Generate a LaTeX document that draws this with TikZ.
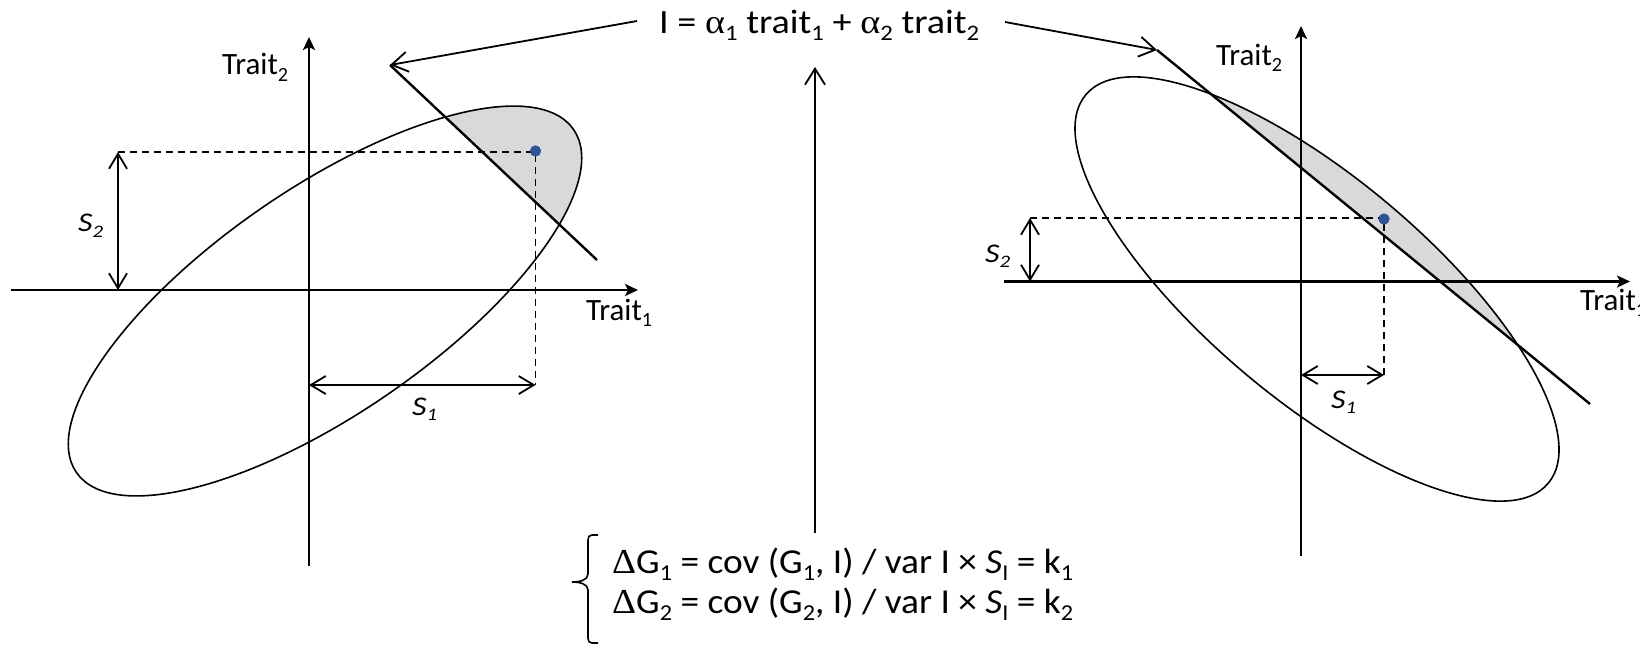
\documentclass[tikz,border=0pt]{standalone}
\usepackage{fontspec}
\usepackage{graphicx}
\setmainfont{Carlito}
\newfontfamily\gk{Liberation Serif}
\usetikzlibrary{arrows.meta}
\definecolor{dotblue}{RGB}{47,85,151}
\definecolor{shadegray}{RGB}{217,217,217}
\newcommand{\lo}[1]{\raisebox{-0.22em}{\scalebox{0.65}{#1}}}
\newcommand{\fitw}[2]{\resizebox{#1pt}{\height}{#2}}
\begin{document}
\begin{tikzpicture}[x=1pt,y=-1pt,
  axis/.style={line width=2.6pt,-{Stealth[length=13pt,width=12pt,inset=3pt]}},
  ell/.style={line width=1.6pt},
  cut/.style={line width=2.4pt},
  dimarrow/.style={line width=1.8pt,{Straight Barb[length=15pt,width=18pt]}-{Straight Barb[length=15pt,width=18pt]}},
  ptr/.style={line width=1.8pt,-{Straight Barb[length=16pt,width=20pt]}},
  guide/.style={line width=1.5pt,dash pattern=on 7pt off 5pt},
  pt/.style={circle,fill=dotblue,inner sep=0pt,minimum size=11pt},
  lab/.style={font=\fontsize{31}{33}\selectfont,inner sep=0pt,anchor=base west},
  slab/.style={font=\fontsize{27}{29}\selectfont\itshape,inner sep=0pt,anchor=base west},
  big/.style={font=\fontsize{34}{36}\selectfont,inner sep=0pt,anchor=base west},
  form/.style={font=\fontsize{35}{37}\selectfont,inner sep=0pt,anchor=base west},
  bracestyle/.style={line width=1.6pt}]
\useasboundingbox (0,0) rectangle (1640,645);

% ---------- left panel ----------
\begin{scope}
  \clip (183,-130) -- (804,455) -- (1194,41) -- (573,-544) -- cycle;
  \fill[shadegray, shift={(325,301)}, rotate=34.6] (0,0) ellipse [x radius=302pt, y radius=112.5pt];
\end{scope}
\draw[ell, shift={(325,301)}, rotate=34.6] (0,0) ellipse [x radius=302pt, y radius=112.5pt];

\coordinate (xa1) at (11,290);
\coordinate (xb1) at (638,290);
\coordinate (ya1) at (309,566);
\coordinate (yb1) at (309,37);
\draw[axis] (xa1) -- (xb1);
\draw[axis] (ya1) -- (yb1);

\coordinate (c1a) at (390,65);
\coordinate (c1b) at (597,260);
\draw[cut] (c1a) -- (c1b);

\coordinate (g1a) at (118,152);
\coordinate (g1b) at (535.5,385);
\coordinate (s1a) at (309,385);
\coordinate (s2b) at (118,290);
\node[pt] (d1) at (535.5,151) {};
\draw[guide] (g1a) -- (535.5,152) -- (g1b);
\node[pt] at (d1) {};
\draw[dimarrow] (g1a) -- (s2b);
\draw[dimarrow] (s1a) -- (g1b);

\node[lab] (t2l) at (222,74.5) {\fitw{66}{Trait\lo{2}}};
\node[lab] (t1l) at (586,320) {\fitw{66}{Trait\lo{1}}};
\node[slab] (s2l) at (78,231.5) {\fitw{25}{S\lo{2}}};
\node[slab] (s1l) at (412,415) {\fitw{25}{S\lo{1}}};

% ---------- right panel ----------
\begin{scope}
  \clip (1157,50) ++(-433,-354) -- ++(1299,1062) -- ++(708,-866) -- ++(-1299,-1062) -- cycle;
  \fill[shadegray, shift={(1317,289)}, rotate=-40.05] (0,0) ellipse [x radius=302pt, y radius=111pt];
\end{scope}
\draw[ell, shift={(1317,289)}, rotate=-40.05] (0,0) ellipse [x radius=302pt, y radius=111pt];

\coordinate (xa2) at (1004,281.5);
\coordinate (xb2) at (1630,281.5);
\coordinate (ya2) at (1301,556);
\coordinate (yb2) at (1301,26);
\draw[axis] (xa2) -- (xb2);
\draw[axis] (ya2) -- (yb2);

\coordinate (c2a) at (1157,50);
\coordinate (c2b) at (1590,404);
\draw[cut] (c2a) -- (c2b);

\coordinate (g2a) at (1030,218);
\coordinate (g2b) at (1384,375);
\coordinate (s1c) at (1301,375);
\coordinate (s2d) at (1030,281.5);
\node[pt] (d2) at (1384,219) {};
\draw[guide] (g2a) -- (1384,218) -- (g2b);
\node[pt] at (d2) {};
\draw[dimarrow] (g2a) -- (s2d);
\draw[dimarrow] (s1c) -- (g2b);

\node[lab] (t2r) at (1216,65) {\fitw{66}{Trait\lo{2}}};
\node[lab] (t1r) at (1580,310) {\fitw{66}{Trait\lo{1}}};
\node[slab] (s2r) at (985,262) {\fitw{25}{S\lo{2}}};
\node[slab] (s1r) at (1331,408) {\fitw{25}{S\lo{1}}};

% ---------- centre ----------
\node[big] (idx) at (659,33.3) {\fitw{320}{I = {\gk α}\lo{1} trait\lo{1} + {\gk α}\lo{2} trait\lo{2}}};
\coordinate (pl) at (637,21);
\coordinate (pr) at (1005,22);
\draw[ptr] (pl) -- (c1a);
\draw[ptr] (pr) -- (c2a);

\node[form] (f1) at (612,573) {\fitw{461}{{\gk Δ}G\lo{1} = cov (G\lo{1}, I) / var I × \textit{S}\lo{I} = k\lo{1}}};
\node[form] (f2) at (612,613) {\fitw{461}{{\gk Δ}G\lo{2} = cov (G\lo{2}, I) / var I × \textit{S}\lo{I} = k\lo{2}}};
\coordinate (ca) at (815,533);
\coordinate (cb) at (815,67);
\draw[ptr] (ca) -- (cb);

\draw[bracestyle] (598,535) -- (592,535) .. controls (589,535) and (588,537) .. (588,540) -- (588,574)
  .. controls (588,580) and (580,582) .. (572,582) .. controls (580,582) and (588,584) .. (588,590)
  -- (588,638) .. controls (588,641) and (589,643) .. (592,643) -- (598,643);
\end{tikzpicture}
\end{document}
